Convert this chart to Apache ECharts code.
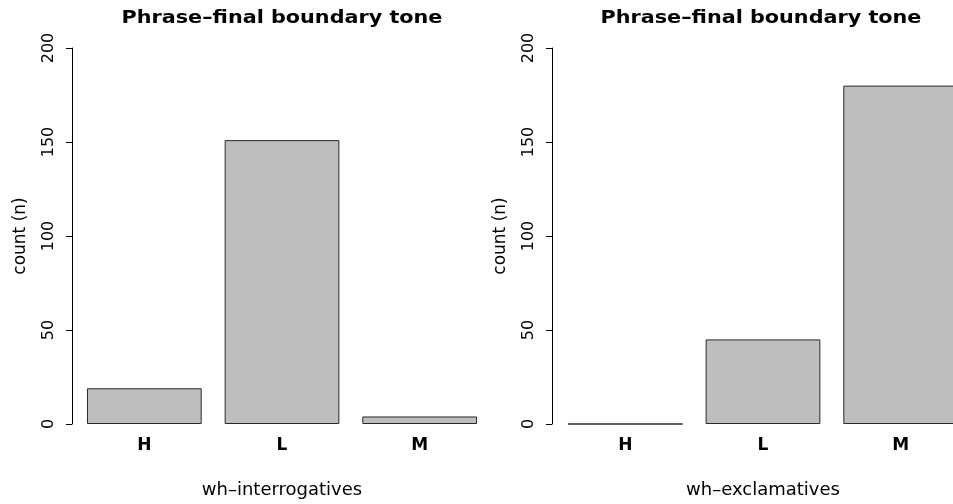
<!DOCTYPE html>
<html>
<head>
<meta charset="utf-8">
<script src="https://cdn.jsdelivr.net/npm/echarts@6/dist/echarts.min.js"></script>
<style>
html,body{margin:0;padding:0;background:#fff;overflow:hidden;width:953px;height:504px;}
#chart{width:1000px;height:504px;}
</style>
</head>
<body>
<div id="chart"></div>
<script>
// Data
const categories = ['H', 'L', 'M'];
const interrogatives = [19, 151, 4];
const exclamatives = [0, 45, 180];
const yTicks = { min: 0, max: 200, interval: 50 };
const titleText = 'Phrase\u2013final boundary tone';
const yName = 'count (n)';
const xNames = ['wh\u2013interrogatives', 'wh\u2013exclamatives'];

const FONT = '"DejaVu Sans", "Liberation Sans", Arial, sans-serif';
const chart = echarts.init(document.getElementById('chart'), null, {renderer: 'canvas'});

const grids = [
  {left: 75.5, top: 48, width: 413, height: 377},
  {left: 556.5, top: 48, width: 413, height: 377}
];

function xAxis(i) {
  return {
    type: 'category', gridIndex: i, data: categories,
    boundaryGap: true,
    axisLine: {show: false}, axisTick: {show: false},
    axisLabel: {fontFamily: FONT, fontSize: 17, fontWeight: 'bold', color: '#000', margin: 13},
    name: xNames[i], nameLocation: 'middle', nameGap: 57,
    nameTextStyle: {fontFamily: FONT, fontSize: 18, color: '#000'}
  };
}
function yAxis(i, offset) {
  return {
    type: 'value', gridIndex: i, min: yTicks.min, max: yTicks.max, interval: yTicks.interval,
    offset: offset,
    axisLine: {show: true, lineStyle: {color: '#000', width: 1}},
    axisTick: {show: true, length: 6, lineStyle: {color: '#000'}},
    splitLine: {show: false},
    axisLabel: {fontFamily: FONT, fontSize: 16, color: '#000', rotate: 90, margin: 15},
    name: yName, nameLocation: 'middle', nameGap: 43,
    nameTextStyle: {fontFamily: FONT, fontSize: 17, color: '#000'}
  };
}
function barSeries(i, data) {
  return {
    type: 'bar', xAxisIndex: i, yAxisIndex: i, data: data,
    barWidth: '83.33%',
    itemStyle: {color: '#bebebe', borderColor: '#2a2a2a', borderWidth: 1},
    silent: true, animation: false
  };
}

function title(cx) {
  return {type: 'text', x: cx, y: 19, scaleX: 1.22,
    style: {text: titleText, x: 0, y: 0, align: 'center', verticalAlign: 'middle',
            font: 'bold 17px ' + FONT, fill: '#000'}};
}

chart.setOption({
  animation: false,
  backgroundColor: '#fff',
  grid: grids,
  xAxis: [xAxis(0), xAxis(1)],
  yAxis: [yAxis(0, 3.5), yAxis(1, 4.5)],
  series: [barSeries(0, interrogatives), barSeries(1, exclamatives)],
  graphic: [title(282), title(761)]
});
</script>
</body>
</html>
